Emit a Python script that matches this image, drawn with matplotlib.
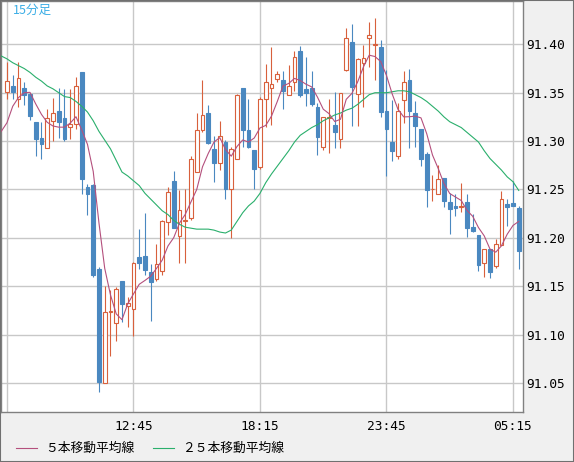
import numpy as np
import pandas as pd
import matplotlib
matplotlib.use("Agg")
import matplotlib.pyplot as plt
from matplotlib.patches import Rectangle
from matplotlib.lines import Line2D

# 15-minute bars from 07:15 to 05:30 (90 bars)
opens = [91.351, 91.357, 91.343, 91.355, 91.349, 91.320, 91.303, 91.293, 91.321, 91.331,
         91.324, 91.315, 91.318, 91.371, 91.253, 91.255, 91.168, 91.050, 91.123, 91.112,
         91.155, 91.130, 91.126, 91.180, 91.181, 91.165, 91.157, 91.166, 91.216, 91.259,
         91.202, 91.217, 91.220, 91.268, 91.311, 91.329, 91.292, 91.277, 91.299, 91.251,
         91.282, 91.355, 91.311, 91.291, 91.273, 91.344, 91.355, 91.364, 91.363, 91.348,
         91.361, 91.393, 91.354, 91.355, 91.335, 91.294, 91.324, 91.317, 91.302, 91.373,
         91.402, 91.349, 91.381, 91.407, 91.399, 91.397, 91.331, 91.299, 91.285, 91.342,
         91.363, 91.329, 91.312, 91.287, 91.250, 91.245, 91.262, 91.237, 91.233, 91.232,
         91.237, 91.211, 91.203, 91.174, 91.188, 91.171, 91.193, 91.235, 91.236, 91.231]
highs = [91.382, 91.368, 91.382, 91.361, 91.349, 91.320, 91.320, 91.333, 91.345, 91.355,
         91.354, 91.354, 91.366, 91.371, 91.256, 91.256, 91.170, 91.150, 91.146, 91.149,
         91.155, 91.139, 91.175, 91.209, 91.226, 91.173, 91.194, 91.218, 91.253, 91.269,
         91.249, 91.250, 91.285, 91.329, 91.363, 91.337, 91.305, 91.321, 91.301, 91.294,
         91.349, 91.355, 91.344, 91.291, 91.346, 91.380, 91.397, 91.372, 91.372, 91.379,
         91.393, 91.398, 91.387, 91.372, 91.339, 91.325, 91.344, 91.351, 91.350, 91.417,
         91.421, 91.386, 91.399, 91.423, 91.427, 91.404, 91.373, 91.342, 91.339, 91.372,
         91.375, 91.341, 91.313, 91.289, 91.265, 91.275, 91.262, 91.246, 91.245, 91.257,
         91.245, 91.225, 91.203, 91.188, 91.188, 91.199, 91.248, 91.240, 91.259, 91.233]
lows = [91.344, 91.344, 91.335, 91.337, 91.322, 91.285, 91.281, 91.293, 91.300, 91.303,
        91.300, 91.302, 91.312, 91.245, 91.224, 91.160, 91.041, 91.050, 91.078, 91.093,
        91.113, 91.108, 91.099, 91.168, 91.162, 91.114, 91.155, 91.162, 91.203, 91.210,
        91.174, 91.174, 91.218, 91.268, 91.309, 91.297, 91.258, 91.270, 91.240, 91.200,
        91.281, 91.294, 91.293, 91.250, 91.271, 91.315, 91.317, 91.361, 91.333, 91.348,
        91.352, 91.346, 91.336, 91.336, 91.286, 91.291, 91.288, 91.293, 91.293, 91.372,
        91.316, 91.316, 91.335, 91.377, 91.363, 91.325, 91.264, 91.279, 91.281, 91.319,
        91.293, 91.294, 91.274, 91.232, 91.238, 91.245, 91.232, 91.204, 91.223, 91.227,
        91.201, 91.206, 91.166, 91.160, 91.158, 91.169, 91.193, 91.212, 91.233, 91.168]
closes = [91.362, 91.351, 91.365, 91.348, 91.326, 91.302, 91.297, 91.324, 91.329, 91.320,
          91.302, 91.318, 91.357, 91.261, 91.245, 91.162, 91.051, 91.123, 91.124, 91.147,
          91.132, 91.133, 91.174, 91.174, 91.167, 91.154, 91.173, 91.217, 91.247, 91.210,
          91.229, 91.218, 91.282, 91.311, 91.327, 91.298, 91.277, 91.305, 91.250, 91.292,
          91.348, 91.311, 91.294, 91.271, 91.344, 91.361, 91.359, 91.369, 91.352, 91.357,
          91.387, 91.348, 91.350, 91.338, 91.304, 91.325, 91.325, 91.309, 91.350, 91.407,
          91.356, 91.385, 91.386, 91.410, 91.400, 91.330, 91.313, 91.290, 91.331, 91.361,
          91.331, 91.316, 91.281, 91.249, 91.251, 91.261, 91.238, 91.230, 91.231, 91.233,
          91.210, 91.207, 91.172, 91.188, 91.165, 91.194, 91.240, 91.232, 91.233, 91.186]

# moving averages: bar -1 is the partly hidden bar at the left edge
ma5_head = [91.310, 91.319, 91.336, 91.345, 91.350]  # bars -1..3
ma25 = [91.388, 91.385, 91.381, 91.378, 91.375, 91.371, 91.366, 91.362, 91.357, 91.354, 91.350,
        91.346, 91.345, 91.341, 91.336, 91.330, 91.321, 91.310, 91.301, 91.292, 91.280,
        91.268, 91.264, 91.259, 91.254, 91.246, 91.240, 91.234, 91.228, 91.224, 91.218,
        91.214, 91.211, 91.210, 91.209, 91.209, 91.209, 91.208, 91.206, 91.205, 91.208,
        91.217, 91.226, 91.233, 91.238, 91.246, 91.257, 91.266, 91.274, 91.282, 91.290,
        91.299, 91.306, 91.310, 91.314, 91.317, 91.321, 91.324, 91.327, 91.329, 91.332,
        91.334, 91.338, 91.343, 91.348, 91.350, 91.350, 91.350, 91.351, 91.352, 91.352,
        91.351, 91.348, 91.345, 91.341, 91.336, 91.331, 91.325, 91.320, 91.317, 91.314,
        91.309, 91.304, 91.299, 91.290, 91.282, 91.276, 91.270, 91.263, 91.258, 91.249]

xtick_pos = [0, 22, 44, 66, 88]
xtick_labels = ['', '12:45', '18:15', '23:45', '05:15']
ytick_vals = [91.05, 91.10, 91.15, 91.20, 91.25, 91.30, 91.35, 91.40]

UP = '#d8603c'
DOWN = '#4a88c0'
MA5_C = '#b4507d'
MA25_C = '#2aaf6c'
BG = '#f0f0f0'

W, H = 574, 462
fig = plt.figure(figsize=(W / 100, H / 100), dpi=100, facecolor=BG)
ax = fig.add_axes([1 / W, 50 / H, 522 / W, 411 / H])
ax.set_facecolor('white')

n = len(closes)
bw = 0.66
for i in range(n):
    o, h, l, c = opens[i], highs[i], lows[i], closes[i]
    up = c >= o
    col = UP if up else DOWN
    ax.vlines(i, l, h, color=col, lw=0.8, zorder=2)
    bottom = min(o, c)
    height = max(abs(c - o), 0.0003)
    ax.add_patch(Rectangle((i - bw / 2, bottom), bw, height,
                           facecolor='white' if up else DOWN,
                           edgecolor=col, lw=0.8, zorder=3))

ma5 = ma5_head + list(pd.Series(closes).rolling(5).mean()[4:])
ma_x = np.arange(-1, n)
ax.plot(ma_x, ma25, color=MA25_C, lw=0.8, zorder=4)
ax.plot(ma_x, ma5, color=MA5_C, lw=0.8, zorder=5)

ax.set_xlim(-1.04, 89.74)
ax.set_ylim(91.020, 91.4448)

ax.set_xticks(xtick_pos)
ax.set_xticklabels(xtick_labels)
ax.set_yticks(ytick_vals)
ax.set_yticklabels(['%.2f' % v for v in ytick_vals])
ax.yaxis.tick_right()
ax.grid(True, color='#c8c8c8', lw=1)
ax.set_axisbelow(True)
ax.tick_params(length=0, labelsize=9.3, labelcolor='black')
ax.tick_params(axis='y', pad=2)
ax.tick_params(axis='x', pad=6)
for lab in ax.get_xticklabels() + ax.get_yticklabels():
    lab.set_family('DejaVu Sans Mono')
for s in ax.spines.values():
    s.set_color('#808080')
    s.set_linewidth(1)

# title and legend
fig.text(13 / W, 1 - 10 / H, '15分足', color='#3caee6', fontsize=9,
         family=['Noto Sans CJK JP', 'DejaVu Sans'], va='center', ha='left')
ly = 1 - 448 / H
fig.add_artist(Line2D([16 / W, 37 / W], [ly, ly], color=MA5_C, lw=0.8))
fig.text(45 / W, ly, '５本移動平均線', fontsize=9.2, family=['Noto Sans CJK JP', 'DejaVu Sans'],
         va='center', ha='left')
fig.add_artist(Line2D([153 / W, 174 / W], [ly, ly], color=MA25_C, lw=0.8))
fig.text(182 / W, ly, '２５本移動平均線', fontsize=9.2, family=['Noto Sans CJK JP', 'DejaVu Sans'],
         va='center', ha='left')

# outer frame of the image
fig.add_artist(Rectangle((0, 0), 1, 1, transform=fig.transFigure, fill=False,
                         edgecolor='#707070', lw=1.5))

fig.savefig('out.png', dpi=100, facecolor=BG)
